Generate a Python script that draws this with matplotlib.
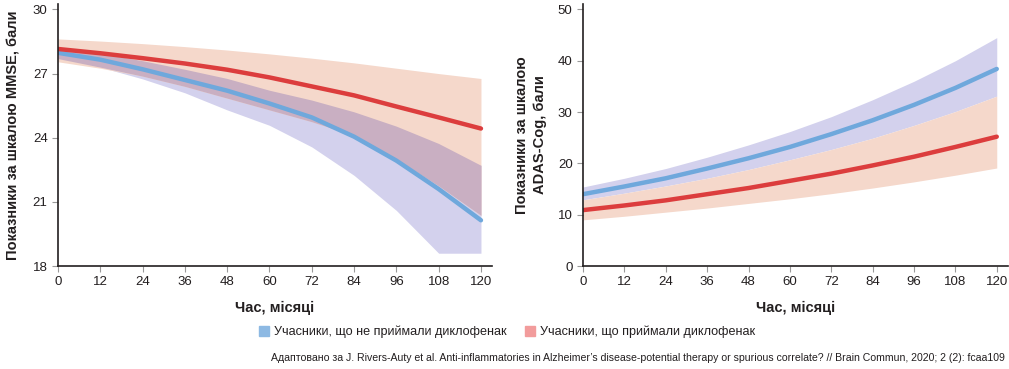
import numpy as np
import matplotlib
matplotlib.use('Agg')
import matplotlib.pyplot as plt
from matplotlib.patches import Patch

plt.rcParams['font.family'] = ['Liberation Sans', 'DejaVu Sans']

# months
months = [0, 12, 24, 36, 48, 60, 72, 84, 96, 108, 120]

# MMSE, participants without diclofenac (blue)
mmse_no = [27.97, 27.65, 27.2, 26.7, 26.2, 25.6, 24.95, 24.05, 22.93, 21.6, 20.14]
mmse_no_hi = [28.15, 27.95, 27.6, 27.2, 26.77, 26.22, 25.76, 25.21, 24.54, 23.73, 22.71]
mmse_no_lo = [27.7, 27.3, 26.75, 26.1, 25.3, 24.58, 23.57, 22.24, 20.6, 18.6, 18.6]

# MMSE, participants with diclofenac (red)
mmse_yes = [28.15, 27.95, 27.72, 27.47, 27.18, 26.82, 26.4, 25.98, 25.46, 24.95, 24.43]
mmse_yes_hi = [28.62, 28.52, 28.4, 28.26, 28.1, 27.92, 27.72, 27.5, 27.25, 27.0, 26.77]
mmse_yes_lo = [27.55, 27.25, 26.88, 26.4, 25.85, 25.3, 24.75, 24.1, 23.0, 21.75, 20.37]

# ADAS-Cog, without diclofenac (blue)
adas_no = [14.0, 15.5, 17.1, 19.0, 21.0, 23.2, 25.7, 28.4, 31.4, 34.7, 38.4]
adas_no_hi = [15.4, 17.1, 19.0, 21.2, 23.6, 26.2, 29.1, 32.4, 36.0, 40.0, 44.5]
adas_no_lo = [12.9, 14.2, 15.6, 17.1, 18.8, 20.7, 22.7, 24.9, 27.4, 30.1, 33.1]

# ADAS-Cog, with diclofenac (red)
adas_yes = [10.9, 11.8, 12.8, 14.0, 15.2, 16.6, 18.0, 19.6, 21.3, 23.2, 25.2]
adas_yes_hi = [12.9, 14.2, 15.6, 17.1, 18.8, 20.7, 22.7, 24.9, 27.4, 30.1, 33.1]
adas_yes_lo = [9.0, 9.7, 10.5, 11.3, 12.2, 13.1, 14.1, 15.2, 16.4, 17.7, 19.1]

blue = '#6fa8dc'
red = '#dc3d3d'
band_blue = '#d3d1ed'
band_red = '#f5d8cb'
band_both = '#c9afc2'
ink = '#231f20'

fig = plt.figure(figsize=(10.09, 3.69), dpi=100)
ax1 = fig.add_axes([0.0575, 0.279, 0.430, 0.710])
ax2 = fig.add_axes([0.5778, 0.279, 0.421, 0.710])


def draw(ax, lo_b, hi_b, mid_b, lo_r, hi_r, mid_r):
    x = np.array(months)
    ax.fill_between(x, lo_b, hi_b, color=band_blue, lw=0)
    ax.fill_between(x, lo_r, hi_r, color=band_red, lw=0)
    # overlap of both bands
    top = np.minimum(hi_b, hi_r)
    bot = np.maximum(lo_b, lo_r)
    ax.fill_between(x, bot, top, where=top > bot, interpolate=True,
                    color=band_both, lw=0)
    ax.plot(x, mid_b, color=blue, lw=3.2, solid_capstyle='round')
    ax.plot(x, mid_r, color=red, lw=3.2, solid_capstyle='round')
    for s in ['top', 'right']:
        ax.spines[s].set_visible(False)
    for s in ['left', 'bottom']:
        ax.spines[s].set_color(ink)
        ax.spines[s].set_linewidth(1.2)
    ax.set_xticks(months)
    ax.tick_params(axis='both', colors='#999999', labelcolor=ink,
                   labelsize=9.5, length=4, width=0.8)
    ax.set_xlabel('Час, місяці', fontsize=10.5, fontweight='bold',
                  color=ink, labelpad=9)


draw(ax1, mmse_no_lo, mmse_no_hi, mmse_no, mmse_yes_lo, mmse_yes_hi, mmse_yes)
ax1.set_xlim(0, 123.1)
ax1.set_ylim(18, 30.25)
ax1.set_yticks([18, 21, 24, 27, 30])
ax1.set_ylabel('Показники за шкалою MMSE, бали', fontsize=10.5,
               fontweight='bold', color=ink, labelpad=9)

draw(ax2, adas_no_lo, adas_no_hi, adas_no, adas_yes_lo, adas_yes_hi, adas_yes)
ax2.set_xlim(0, 123.2)
ax2.set_ylim(0, 51.04)
ax2.set_yticks([0, 10, 20, 30, 40, 50])
ax2.set_ylabel('Показники за шкалою\nADAS-Cog, бали', fontsize=10.5,
               fontweight='bold', color=ink, labelpad=8, linespacing=1.35)

handles = [Patch(color='#8db9e3', label='Учасники, що не приймали диклофенак'),
           Patch(color='#f29c9c', label='Учасники, що приймали диклофенак')]
fig.legend(handles=handles, loc='center', bbox_to_anchor=(0.5025, 0.100),
           ncol=2, frameon=False, fontsize=9.1, handlelength=0.85,
           handleheight=0.85, handletextpad=0.4, columnspacing=1.4,
           labelcolor=ink)

fig.text(0.996, 0.03,
         'Адаптовано за J. Rivers-Auty et al. Anti-inflammatories in Alzheimer’s '
         'disease-potential therapy or spurious correlate? // Brain Commun, 2020; 2 (2): fcaa109',
         ha='right', va='center', fontsize=7.55, color=ink)

fig.savefig('out.png', dpi=100)
